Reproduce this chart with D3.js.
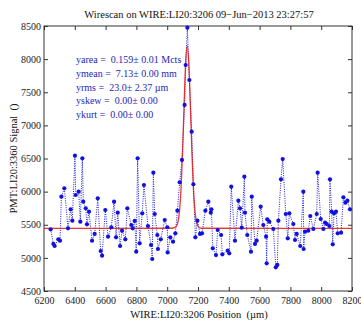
<!DOCTYPE html>
<html>
<head>
<meta charset="utf-8">
<script src="https://cdn.jsdelivr.net/npm/d3@7"></script>
<style>
  body { margin: 0; background: #fff; }
  text { font-family: "Liberation Serif", "Times New Roman", serif; white-space: pre; }
</style>
</head>
<body>
<div id="chart"></div>
<script>
// wire position (um) and PMT signal
const positions = [
  6243, 6261, 6269, 6293, 6304, 6313, 6332, 6356, 6373, 6384, 6401, 6406, 6425, 6436, 6449, 6455,
  6471, 6479, 6492, 6512, 6529, 6549, 6568, 6577, 6598, 6616, 6637, 6655, 6668, 6679, 6694, 6707,
  6728, 6741, 6767, 6776, 6789, 6799, 6808, 6821, 6838, 6849, 6875, 6895, 6903, 6910, 6919, 6936,
  6940, 6958, 6984, 7001, 7003, 7020, 7038, 7053, 7066, 7081, 7096, 7113, 7120, 7131, 7144, 7159,
  7170, 7183, 7196, 7213, 7226, 7248, 7267, 7283, 7287, 7296, 7317, 7328, 7350, 7358, 7393, 7403,
  7416, 7440, 7462, 7473, 7484, 7501, 7505, 7520, 7544, 7549, 7570, 7581, 7607, 7624, 7642, 7646,
  7650, 7663, 7689, 7705, 7715, 7722, 7739, 7750, 7770, 7783, 7793, 7819, 7830, 7841, 7864, 7884,
  7886, 7895, 7916, 7929, 7949, 7971, 7977, 7997, 8014, 8025, 8036, 8053, 8057, 8068, 8075, 8083,
  8096, 8107, 8129, 8144, 8157, 8170, 8187
];
const signal = [
  5431, 5210, 5179, 5280, 5260, 5924, 6050, 5446, 5733, 5562, 6542, 5949, 5999, 5547, 6503, 5849,
  5748, 5507, 5698, 5260, 5361, 5899, 5104, 5033, 5723, 5320, 5462, 5849, 5310, 5683, 5179, 5410,
  5280, 5748, 5496, 5446, 5557, 5093, 6503, 5220, 5673, 6100, 5481, 5194, 4983, 6286, 5662, 5345,
  5134, 5280, 5572, 5462, 5083, 5310, 5244, 5371, 5712, 6141, 6478, 7308, 7911, 8474, 7685, 6905,
  6111, 5310, 5562, 5361, 5371, 5712, 5849, 5683, 5733, 5144, 5043, 5421, 5345, 5053, 5108, 5069,
  6075, 5260, 5864, 5748, 5456, 6225, 5683, 5345, 5093, 5924, 5210, 5260, 5773, 5496, 5320, 4918,
  5582, 5547, 5436, 4857, 4893, 5562, 6186, 6492, 5662, 5295, 5673, 5511, 5270, 5361, 5179, 5999,
  5134, 5395, 5410, 5632, 5436, 5662, 6286, 5587, 5436, 5531, 5511, 5481, 6186, 5698, 5205, 5673,
  5698, 5371, 5380, 5914, 5833, 5864, 5733
];

// gaussian fit curve
const fitPos = [6200, 7030, 7050, 7060, 7070, 7080, 7090, 7100, 7110, 7120, 7130,
                7140, 7150, 7160, 7170, 7180, 7190, 7200, 7220, 8200];
const fitSig = [5445, 5447, 5460, 5480, 5545, 5710, 6050, 6620, 7330, 7950, 8200,
                7950, 7330, 6620, 6050, 5710, 5545, 5480, 5447, 5445];

const xTicks = [6200, 6400, 6600, 6800, 7000, 7200, 7400, 7600, 7800, 8000, 8200];
const yTicks = [4500, 5000, 5500, 6000, 6500, 7000, 7500, 8000, 8500];

const statLines = [
  'yarea =  0.159\u00b1 0.01 Mcts',
  'ymean =  7.13\u00b1 0.00 mm',
  'yrms =  23.0\u00b1 2.37 \u00b5m',
  'yskew =  0.00\u00b1 0.00',
  'ykurt =  0.00\u00b1 0.00'
];

const W = 361, H = 324;
const margin = { top: 26, right: 9, bottom: 33, left: 44 },
  width = W - margin.left - margin.right,
  height = H - margin.top - margin.bottom;

const svg = d3.select('#chart')
  .append('svg')
  .attr('width', W)
  .attr('height', H);

svg.append('rect').attr('width', W).attr('height', H).attr('fill', '#fff');

const g = svg.append('g')
  .attr('transform', 'translate(' + margin.left + ',' + margin.top + ')');

const x = d3.scaleLinear().domain([6200, 8200]).range([0, width]);
const y = d3.scaleLinear().domain([4500, 8500]).range([height, 0]);

// axes, ticks pointing inwards on all four sides
const tk = 4;
g.append('g')
  .attr('transform', 'translate(0,' + height + ')')
  .call(d3.axisBottom(x).tickValues(xTicks).tickSizeInner(-tk).tickSizeOuter(0)
    .tickPadding(6).tickFormat(d3.format('d')));
g.append('g')
  .call(d3.axisTop(x).tickValues(xTicks).tickSizeInner(-tk).tickSizeOuter(0).tickFormat(''));
g.append('g')
  .call(d3.axisLeft(y).tickValues(yTicks).tickSizeInner(-tk).tickSizeOuter(0)
    .tickPadding(3).tickFormat(d3.format('d')));
g.append('g')
  .attr('transform', 'translate(' + width + ',0)')
  .call(d3.axisRight(y).tickValues(yTicks).tickSizeInner(-tk).tickSizeOuter(0).tickFormat(''));

g.selectAll('.domain').remove();
g.selectAll('.tick line').attr('stroke', '#333');
g.selectAll('.tick text')
  .attr('font-family', '"Liberation Serif", serif')
  .attr('font-size', 10)
  .attr('fill', '#222');

g.append('rect')
  .attr('width', width).attr('height', height)
  .attr('fill', 'none').attr('stroke', '#333').attr('stroke-width', 1);

// data: dotted line + dot markers
const pts = positions.map((p, i) => ({ p: p, s: signal[i] }));

g.append('path')
  .datum(pts)
  .attr('fill', 'none')
  .attr('stroke', '#1d1dd6')
  .attr('stroke-width', 1)
  .attr('stroke-dasharray', '1,1.3')
  .attr('d', d3.line().x(d => x(d.p)).y(d => y(d.s)));

// fit
const fit = fitPos.map((p, i) => ({ p: p, s: fitSig[i] }));
g.append('path')
  .datum(fit)
  .attr('fill', 'none')
  .attr('stroke', '#e01818')
  .attr('stroke-width', 1.3)
  .attr('stroke-opacity', 0.85)
  .attr('d', d3.line().curve(d3.curveMonotoneX).x(d => x(d.p)).y(d => y(d.s)));

g.selectAll('circle')
  .data(pts)
  .enter().append('circle')
  .attr('cx', d => x(d.p))
  .attr('cy', d => y(d.s))
  .attr('r', 2.1)
  .attr('fill', '#1010e0');

// fit statistics
g.append('g')
  .selectAll('text')
  .data(statLines)
  .enter().append('text')
  .attr('x', 32)
  .attr('y', (d, i) => 37 + i * 13.8)
  .attr('font-size', 10)
  .attr('fill', '#2626b8')
  .text(d => d);

// titles
svg.append('text')
  .attr('x', 199).attr('y', 18)
  .attr('text-anchor', 'middle')
  .attr('font-size', 10.5)
  .attr('fill', '#111')
  .text('Wirescan on WIRE:LI20:3206 09\u2212Jun\u22122013 23:27:57');

svg.append('text')
  .attr('x', 199).attr('y', 318)
  .attr('text-anchor', 'middle')
  .attr('font-size', 10.5)
  .attr('fill', '#111')
  .text('WIRE:LI20:3206 Position  (\u00b5m)');

svg.append('text')
  .attr('transform', 'translate(17,' + (margin.top + height / 2) + ') rotate(-90)')
  .attr('text-anchor', 'middle')
  .attr('font-size', 10.5)
  .attr('fill', '#111')
  .text('PMT:LI20:3360 Signal  ()');
</script>
</body>
</html>
